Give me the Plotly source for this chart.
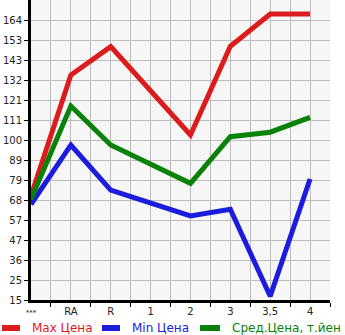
import plotly.graph_objects as go

categories = ["***", "RA", "R", "1", "2", "3", "3,5", "4"]
max_price = [70.5, 134.7, 149.8, 126.2, 102.8, 150.0, 167.2, 167.2]
min_price = [65.9, 97.5, 73.5, 66.6, 59.7, 63.3, 17.0, 79.4]
avg_price = [68.6, 118.2, 97.5, 87.4, 77.1, 101.9, 104.3, 112.2]
series_names = ["Max Цена", "Min Цена", "Сред.Цена, т.йен"]
y_tick_labels = ["15", "25", "36", "47", "57", "68", "79", "89", "100", "111", "121", "132", "143", "153", "164"]

colors = ["#dc1c1c", "#1c1cdc", "#0a820a"]

y_min = 15.0
y_step = 149.0 / 14
y_tickvals = [y_min + i * y_step for i in range(len(y_tick_labels))]
y_max = y_min + 15 * y_step

xs = list(range(len(categories)))
x_ticktext = [f'<span style="font-size:7px">{c}</span>' if c == "***" else c for c in categories]

fig = go.Figure()
for name, vals, col in zip(series_names, [max_price, min_price, avg_price], colors):
    fig.add_trace(go.Scatter(
        x=xs, y=vals, mode="lines", name=name,
        line=dict(color=col, width=5),
    ))

# manual legend (in the bottom margin)
W, H = 299.0, 300.0
leg_y = (300 - 328) / H
leg_items = [(0, 22, 30), (100, 122, 130), (198, 222, 230)]
for (x0, x1, xt), name, col in zip(leg_items, series_names, colors):
    fig.add_shape(type="line", xref="paper", yref="paper",
                  x0=(x0 + 2 - 31) / W, x1=(x1 - 2 - 31) / W, y0=leg_y, y1=leg_y,
                  line=dict(color=col, width=6))
    fig.add_annotation(xref="paper", yref="paper", x=(xt - 31) / W, y=leg_y,
                       xanchor="left", yanchor="middle", text=name, showarrow=False,
                       font=dict(size=12, color=col, family="DejaVu Sans"))

fig.update_layout(
    width=345, height=335,
    margin=dict(l=31, r=15, t=0, b=35),
    paper_bgcolor="white",
    plot_bgcolor="#f6f6f6",
    font=dict(family="DejaVu Sans", size=10, color="#222"),
    showlegend=False,
)
fig.update_xaxes(
    range=[0, 7.5], tickvals=xs, ticktext=x_ticktext,
    showgrid=True, gridcolor="#bdbdbd", gridwidth=1,
    minor=dict(tickvals=[i + 0.5 for i in xs], showgrid=True, gridcolor="#bdbdbd", gridwidth=1,
               ticks="outside", ticklen=4, tickcolor="black"),
    showline=True, linecolor="black", linewidth=3,
    ticks="", zeroline=False, tickfont=dict(size=10),
)
fig.update_yaxes(
    range=[y_min, y_max], tickvals=y_tickvals, ticktext=y_tick_labels,
    showgrid=True, gridcolor="#bdbdbd", gridwidth=1,
    minor=dict(tickvals=[y_max], showgrid=True, gridcolor="#bdbdbd"),
    showline=True, linecolor="black", linewidth=3,
    ticks="outside", ticklen=4, tickcolor="black",
    zeroline=False, tickfont=dict(size=10),
)

fig.write_html("out.html")
